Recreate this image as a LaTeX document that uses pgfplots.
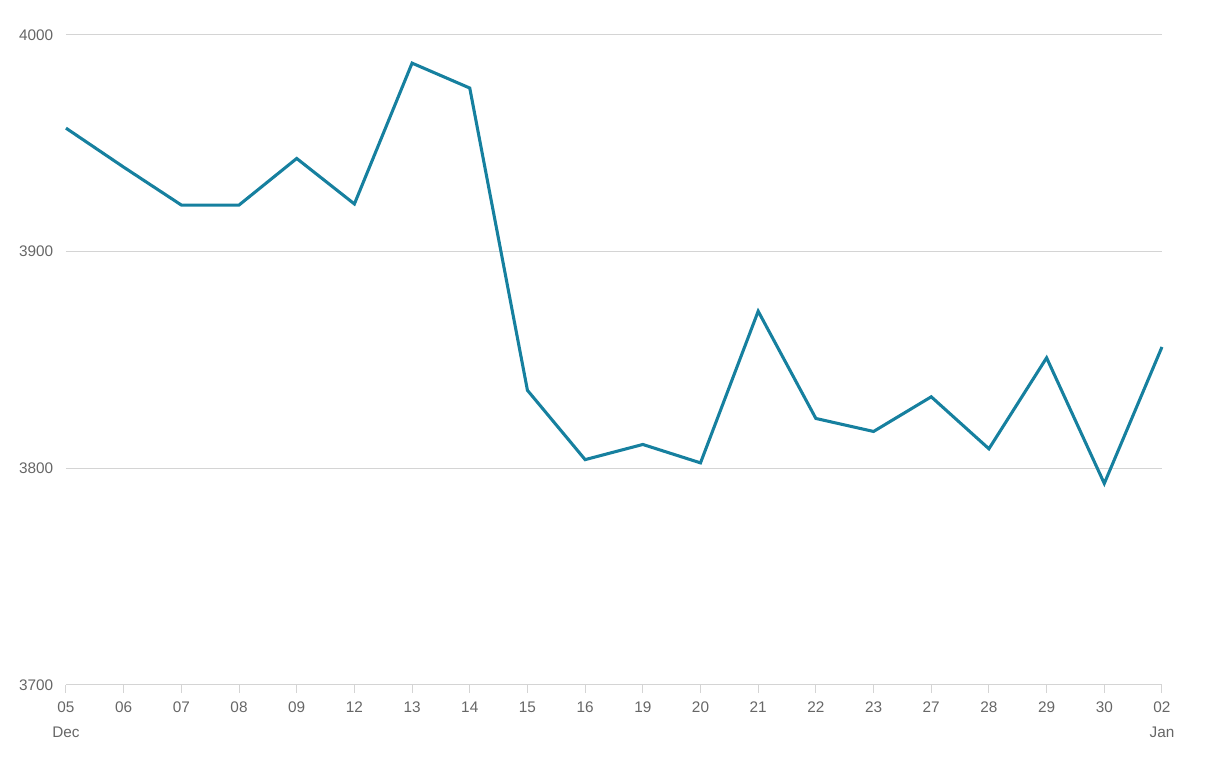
\documentclass[border=0pt]{standalone}
\usepackage{fontspec}
\setmainfont{Liberation Sans}
\usepackage{pgfplots}
\pgfplotsset{compat=1.18}
\definecolor{lineblue}{HTML}{16809F}
\definecolor{gridgray}{HTML}{D4D4D4}
\definecolor{labelgray}{HTML}{666666}

\begin{document}
\begin{tikzpicture}
\begin{axis}[
    scale only axis,
    width=822pt, height=487.5pt,
    xmin=0, xmax=19,
    ymin=3700, ymax=4000,
    ytick={3700,3800,3900,4000},
    xtick={0,...,19},
    xticklabels={{05\\Dec},06,07,08,09,12,13,14,15,16,19,20,21,22,23,27,28,29,30,{02\\Jan}},
    xticklabel style={align=center, font=\fontsize{11.5}{18.5}\selectfont, text=labelgray, yshift=-3pt},
    yticklabel style={font=\fontsize{11.5}{12}\selectfont, text=labelgray},
    /pgf/number format/assume math mode=true,
    /pgf/number format/1000 sep={},
    axis x line*=bottom,
    axis y line*=left,
    y axis line style={draw=none},
    x axis line style={gridgray, line width=0.75pt, -},
    ymajorgrids,
    grid style={gridgray, line width=0.75pt},
    tick align=outside,
    xtick style={gridgray, line width=0.75pt},
    ytick style={draw=none},
    major tick length=6pt,
    clip=false,
]
\addplot[color=lineblue, line width=2.3pt, line join=miter] coordinates {
    (0,3957) (1,3939) (2,3921.5) (3,3921.5) (4,3943) (5,3922)
    (6,3987) (7,3975.5) (8,3836) (9,3804) (10,3811) (11,3802.5)
    (12,3872.5) (13,3823) (14,3817) (15,3833) (16,3809) (17,3851)
    (18,3793) (19,3856)
};
\path (axis description cs:-0.0602,-0.1446) rectangle (axis description cs:1.0420,1.0538);
\end{axis}
\end{tikzpicture}
\end{document}
